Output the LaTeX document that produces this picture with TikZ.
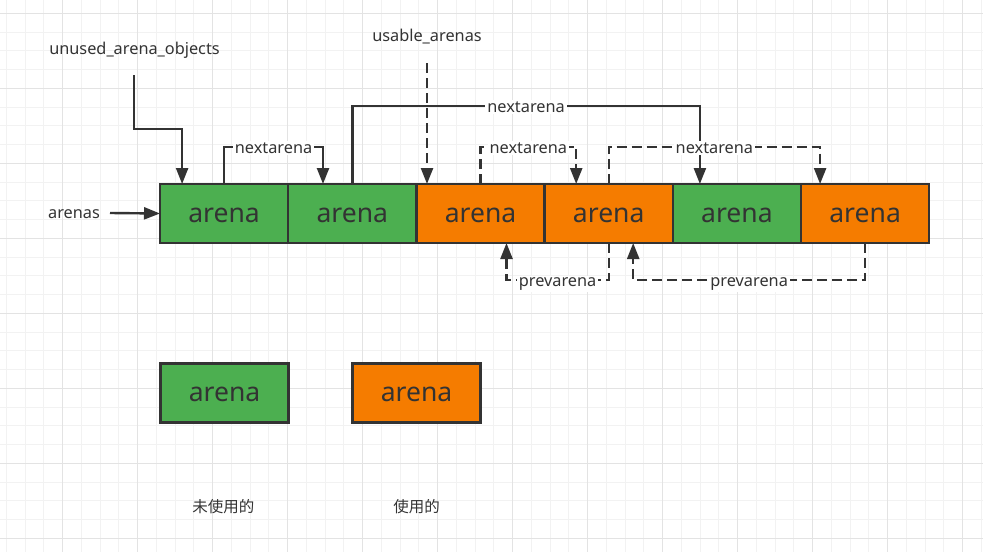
\documentclass[tikz,border=0pt]{standalone}
\usepackage{fontspec}
\setmainfont{Noto Sans}
\newfontfamily\cjk{Noto Sans CJK SC}
\usetikzlibrary{arrows.meta}

\definecolor{arenagreen}{HTML}{4CAF50}
\definecolor{arenaorange}{HTML}{F57C00}
\definecolor{ink}{HTML}{333333}
\definecolor{gridminor}{HTML}{F2F2F2}
\definecolor{gridmajor}{HTML}{E3E3E3}

\tikzset{
    arena/.style={draw=ink, line width=2.5pt, minimum width=128.2pt, minimum height=59pt,
        inner sep=0pt, outer sep=0pt, text=ink, text height=17pt, text depth=0pt,
        font=\fontsize{26.5}{26.5}\selectfont},
    free/.style={fill=arenagreen},
    used/.style={fill=arenaorange},
    lbl/.style={text=ink, font=\fontsize{16.3}{17}\selectfont, inner sep=2pt},
    onlink/.style={lbl, fill=white},
    link/.style={draw=ink, line width=2.4pt, -{Triangle[length=16pt, width=12pt]}},
    dlink/.style={link, dash pattern=on 10pt off 5pt},
}

\begin{document}
\begin{tikzpicture}[x=1pt, y=-1pt]
    \useasboundingbox[fill=white] (0,0) rectangle (983,552);

    % background grid
    \foreach \i in {0,...,52} \draw[gridminor, line width=1pt] ({6.45+18.75*\i},0) -- ({6.45+18.75*\i},552);
    \foreach \i in {0,...,29} \draw[gridminor, line width=1pt] (0,{13.3+18.75*\i}) -- (983,{13.3+18.75*\i});
    \foreach \i in {0,...,12} \draw[gridmajor, line width=1pt] ({62.7+75*\i},0) -- ({62.7+75*\i},552);
    \foreach \i in {0,...,7} \draw[gridmajor, line width=1pt] (0,{13.3+75*\i}) -- (983,{13.3+75*\i});

    % arena row
    \node[arena, free] (a1) at (224.1, 213.5) {arena};
    \node[arena, free] (a2) at (352.3, 213.5) {arena};
    \node[arena, used] (a3) at (480.5, 213.5) {arena};
    \node[arena, used] (a4) at (608.7, 213.5) {arena};
    \node[arena, free] (a5) at (736.9, 213.5) {arena};
    \node[arena, used] (a6) at (865.1, 213.5) {arena};

    % pointers
    \node[lbl] (unused) at (134.5, 50) {unused\_arena\_objects};
    \node[lbl] (usable) at (427, 37) {usable\_arenas};
    \node[lbl] (arenas) at (74, 214) {arenas};
    \coordinate (unusedtail) at (134, 75);
    \coordinate (usabletail) at (427, 63);
    \coordinate (arenastail) at (110, 213);

    \draw[link] (arenastail) -- (a1.west);
    \draw[link] (unusedtail) -- ++(0,54) -| ([xshift=-42pt]a1.north);
    \draw[dlink] (usabletail) -- (usabletail |- a3.north);

    % nextarena links
    \draw[link] (a1.north) -- ++(0,-37) -| node[onlink, pos=0.25, yshift=-1pt] {nextarena} ([xshift=-29.3pt]a2.north);
    \draw[link] (a2.north) -- ++(0,-78) -| node[onlink, pos=0.25, yshift=-1pt] {nextarena} ([xshift=-37pt]a5.north);
    \draw[dlink] (a3.north) -- ++(0,-37) -| node[onlink, pos=0.25, yshift=-1pt] {nextarena} ([xshift=-32.5pt]a4.north);
    \draw[dlink] (a4.north) -- ++(0,-37) -| node[onlink, pos=0.25, yshift=-1pt] {nextarena} ([xshift=-45pt]a6.north);

    % prevarena links
    \draw[dlink] (a4.south) -- ++(0,37) -| node[onlink, pos=0.25, yshift=-4pt] {prevarena} ([xshift=26pt]a3.south);
    \draw[dlink] (a6.south) -- ++(0,37) -| node[onlink, pos=0.25, yshift=-4pt] {prevarena} ([xshift=24.5pt]a4.south);

    % legend
    \node[arena, free] (k1) at (224.6, 393) {arena};
    \node[arena, used] (k2) at (416.6, 393) {arena};
    \node[lbl, font=\cjk\fontsize{15.5}{16}\selectfont] (k1text) at (223.3, 506.5) {未使用的};
    \node[lbl, font=\cjk\fontsize{15.5}{16}\selectfont] (k2text) at (416.7, 506.5) {使用的};
\end{tikzpicture}
\end{document}
